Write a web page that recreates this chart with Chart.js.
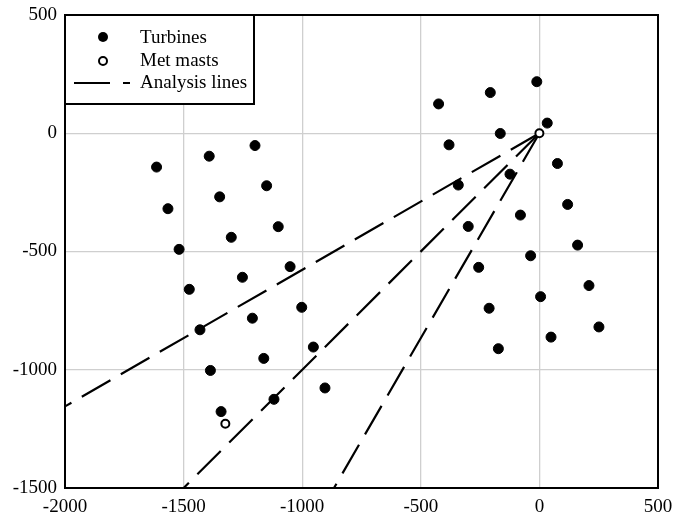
<!DOCTYPE html>
<html>
<head>
<meta charset="utf-8">
<script src="https://cdn.jsdelivr.net/npm/chart.js@4/dist/chart.umd.min.js"></script>
<style>
  html, body { margin: 0; padding: 0; background: #fff; }
</style>
</head>
<body>
<canvas id="layoutChart" width="674" height="522"></canvas>
<script>
// Turbine and met mast positions (m)
const turbineX = [-1614, -1392, -1199, -1150, -1348, -1566, -1101, -1299, -1519,
  -1051, -1252, -1476, -1002, -1210, -1431, -953, -1162, -1387, -904, -1119, -1342,
  -11, -207, -425, 33, -165, -381, 76, -124, -342, 119, -80, -300, 161, -37,
  -256, 209, 5, -212, 251, 49, -173];
const turbineY = [-143, -97, -52, -222, -269, -319, -395, -440, -491,
  -564, -609, -660, -736, -782, -831, -904, -952, -1003, -1077, -1125, -1177,
  218, 172, 124, 43, -1, -49, -128, -173, -219, -301, -346, -394, -473, -518,
  -567, -644, -691, -740, -819, -862, -911];
const mastX = [0, -1324];
const mastY = [0, -1228];
// analysis lines start at the met mast (0,0)
const lineStartX = [0, 0, 0];
const lineStartY = [0, 0, 0];
const lineEndX = [-2000, -1500, -866];
const lineEndY = [-1155, -1500, -1500];
const xTicks = [-2000, -1500, -1000, -500, 0, 500];
const yTicks = [-1500, -1000, -500, 0, 500];

const FONT = "'Liberation Serif', 'Times New Roman', serif";
const DASH = [33, 12];

const lineSets = lineEndX.map((x, i) => ({
  label: 'Analysis lines',
  type: 'line',
  data: [{ x: lineStartX[i], y: lineStartY[i] }, { x: x, y: lineEndY[i] }],
  borderColor: '#000',
  borderWidth: 2.2,
  borderDash: DASH,
  pointRadius: 0,
  fill: false,
  order: 3,
}));

// frame round the plot
const framePlugin = {
  id: 'frame',
  afterDraw(chart) {
    const { ctx, chartArea: a } = chart;
    ctx.save();
    ctx.strokeStyle = '#000';
    ctx.lineWidth = 2;
    ctx.strokeRect(a.left, a.top, a.right - a.left, a.bottom - a.top);
    ctx.restore();
  }
};

// boxed legend in the upper left corner
const legendPlugin = {
  id: 'boxLegend',
  afterDraw(chart) {
    const { ctx, chartArea: a } = chart;
    const x0 = a.left, y0 = a.top, w = 189, h = 89;
    ctx.save();
    ctx.fillStyle = '#fff';
    ctx.fillRect(x0, y0, w, h);
    ctx.strokeStyle = '#000';
    ctx.lineWidth = 2;
    ctx.strokeRect(x0, y0, w, h);

    ctx.fillStyle = '#000';
    ctx.beginPath();
    ctx.arc(x0 + 38, y0 + 22, 5, 0, Math.PI * 2);
    ctx.fill();

    ctx.beginPath();
    ctx.lineWidth = 2;
    ctx.arc(x0 + 38, y0 + 46, 4, 0, Math.PI * 2);
    ctx.stroke();

    ctx.lineWidth = 2.2;
    ctx.beginPath();
    ctx.moveTo(x0 + 9, y0 + 68);
    ctx.lineTo(x0 + 45, y0 + 68);
    ctx.moveTo(x0 + 58, y0 + 68);
    ctx.lineTo(x0 + 65, y0 + 68);
    ctx.stroke();

    ctx.font = '19px ' + FONT;
    ctx.textBaseline = 'middle';
    ctx.textAlign = 'left';
    ctx.fillText('Turbines', x0 + 75, y0 + 23);
    ctx.fillText('Met masts', x0 + 75, y0 + 46);
    ctx.fillText('Analysis lines', x0 + 75, y0 + 68);
    ctx.restore();
  }
};

new Chart(document.getElementById('layoutChart'), {
  type: 'scatter',
  data: {
    datasets: [
      {
        label: 'Turbines',
        data: turbineX.map((x, i) => ({ x: x, y: turbineY[i] })),
        backgroundColor: '#000',
        borderColor: '#000',
        pointRadius: 5,
        pointHoverRadius: 5,
        order: 2,
      },
      {
        label: 'Met masts',
        data: mastX.map((x, i) => ({ x: x, y: mastY[i] })),
        backgroundColor: '#fff',
        borderColor: '#000',
        borderWidth: 2,
        pointRadius: 4,
        pointHoverRadius: 4,
        order: 1,
      },
      ...lineSets
    ]
  },
  options: {
    responsive: false,
    devicePixelRatio: 1,
    animation: false,
    layout: { padding: { top: 15, right: 16, left: 0, bottom: 0 } },
    plugins: { legend: { display: false }, tooltip: { enabled: false } },
    scales: {
      x: {
        type: 'linear',
        min: -2000,
        max: 500,
        afterBuildTicks(scale) { scale.ticks = xTicks.map((v) => ({ value: v })); },
        afterFit(scale) {
          scale.height = 34;
          scale.paddingLeft = 0;
          scale.paddingRight = 0;
        },
        grid: { color: '#cfcfcf', lineWidth: 1.3, drawTicks: false },
        border: { display: false },
        ticks: {
          color: '#000', padding: 8, maxRotation: 0,
          font: { family: FONT, size: 19 },
          callback: (v) => String(v)
        }
      },
      y: {
        type: 'linear',
        min: -1500,
        max: 500,
        afterBuildTicks(scale) { scale.ticks = yTicks.map((v) => ({ value: v })); },
        afterFit(scale) {
          scale.width = 65;
          scale.paddingTop = 0;
          scale.paddingBottom = 0;
        },
        grid: { color: '#cfcfcf', lineWidth: 1.3, drawTicks: false },
        border: { display: false },
        ticks: {
          color: '#000', padding: 8,
          font: { family: FONT, size: 19 },
          callback: (v) => String(v)
        }
      }
    }
  },
  plugins: [framePlugin, legendPlugin]
});
</script>
</body>
</html>
